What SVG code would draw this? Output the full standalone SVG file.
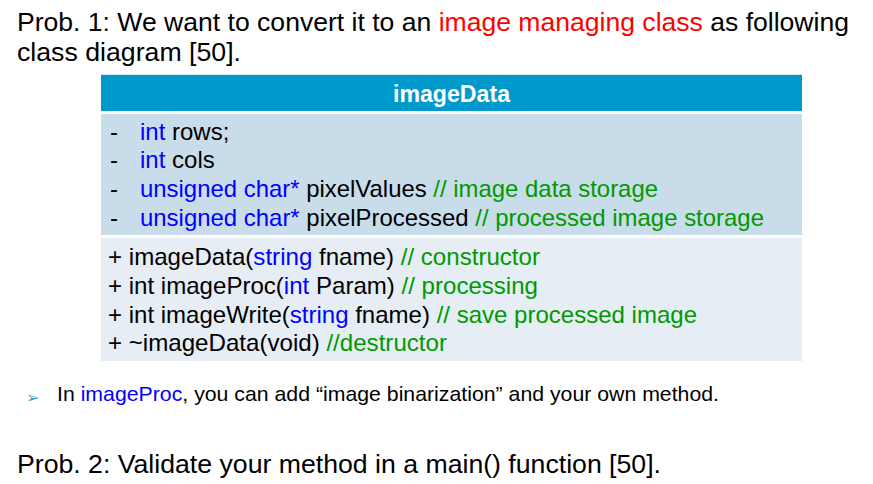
<svg xmlns="http://www.w3.org/2000/svg" width="873" height="484" viewBox="0 0 873 484">
<style>
text{font-family:"Liberation Sans",Arial,sans-serif;fill:#000}
.t{font-size:26px}
.r{font-size:24px}
.s{font-size:21px}
.b{fill:#0000FF}
.g{fill:#009900}
.red{fill:#FF0000}
</style>
<rect width="873" height="484" fill="#fff"/>
<text class="t" x="17" y="31" textLength="832" lengthAdjust="spacingAndGlyphs">Prob. 1: We want to convert it to an <tspan class="red">image managing class</tspan> as following</text>
<text class="t" x="17" y="61" textLength="224" lengthAdjust="spacingAndGlyphs">class diagram [50].</text>
<g id="imageData">
<rect x="101" y="74" width="701" height="1" fill="#cfe6f2"/>
<rect x="101" y="75" width="701" height="36" fill="#0099CC"/>
<text x="393" y="102" textLength="117" lengthAdjust="spacingAndGlyphs" style="font-size:23px;font-weight:bold;fill:#fff">imageData</text>
<rect x="101" y="114" width="701" height="121" fill="#C9DCEA"/>
<text class="r" x="110" y="140">-</text><text class="r" x="140" y="140"><tspan class="b">int</tspan> rows;</text>
<text class="r" x="110" y="168">-</text><text class="r" x="140" y="168"><tspan class="b">int</tspan> cols</text>
<text class="r" x="110" y="197">-</text><text class="r" x="140" y="197" textLength="518" lengthAdjust="spacingAndGlyphs"><tspan class="b">unsigned char*</tspan> pixelValues <tspan class="g">// image data storage</tspan></text>
<text class="r" x="110" y="226">-</text><text class="r" x="140" y="226" textLength="624" lengthAdjust="spacingAndGlyphs"><tspan class="b">unsigned char*</tspan> pixelProcessed <tspan class="g">// processed image storage</tspan></text>
<rect x="101" y="238" width="701" height="123" fill="#E6EDF5"/>
<text class="r" x="108" y="265" textLength="432" lengthAdjust="spacingAndGlyphs">+ imageData(<tspan class="b">string</tspan> fname) <tspan class="g">// constructor</tspan></text>
<text class="r" x="108" y="294" textLength="430" lengthAdjust="spacingAndGlyphs">+ int imageProc(<tspan class="b">int</tspan> Param) <tspan class="g">// processing</tspan></text>
<text class="r" x="108" y="322.5" textLength="589" lengthAdjust="spacingAndGlyphs">+ int imageWrite(<tspan class="b">string</tspan> fname) <tspan class="g">// save processed image</tspan></text>
<text class="r" x="108" y="351" textLength="339" lengthAdjust="spacingAndGlyphs">+ ~imageData(void) <tspan class="g">//destructor</tspan></text>
</g>
<g id="connectors"></g>
<text x="26" y="403" style="font-family:'DejaVu Sans',sans-serif;font-size:16px;fill:#33A3D6">➢</text>
<text class="s" x="57" y="401" textLength="662" lengthAdjust="spacingAndGlyphs">In <tspan class="b">imageProc</tspan>, you can add “image binarization” and your own method.</text>
<text class="t" x="17" y="472.5" textLength="644" lengthAdjust="spacingAndGlyphs">Prob. 2: Validate your method in a main() function [50].</text>
</svg>
